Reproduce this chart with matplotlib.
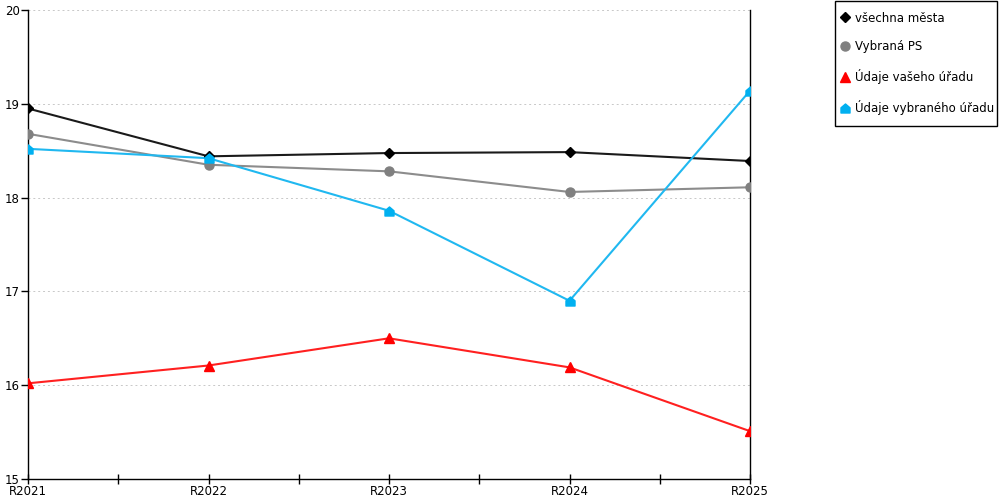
import matplotlib
matplotlib.use("Agg")
import matplotlib.pyplot as plt
from matplotlib.lines import Line2D
from matplotlib.path import Path
from matplotlib.patches import Rectangle

years = ["R2021", "R2022", "R2023", "R2024", "R2025"]
vsechna_mesta = [18.95, 18.44, 18.475, 18.485, 18.39]
vybrana_ps = [18.68, 18.35, 18.28, 18.06, 18.11]
vas_urad = [16.02, 16.21, 16.50, 16.19, 15.51]
vybrany_urad = [18.52, 18.42, 17.86, 16.90, 19.14]

# "house" marker: triangle on top of a square
house = Path([(-1, -1), (1, -1), (1, 0.15), (0, 1), (-1, 0.15), (-1, -1)],
             [Path.MOVETO, Path.LINETO, Path.LINETO, Path.LINETO, Path.LINETO, Path.CLOSEPOLY])

series = [
    ("všechna města", vsechna_mesta, "#000000", "#1a1a1a", "D", 5.5),
    ("Vybraná PS", vybrana_ps, "#808080", "#8c8c8c", "o", 6.5),
    ("Údaje vašeho úřadu", vas_urad, "#ff0000", "#ff2020", "^", 7),
    ("Údaje vybraného úřadu", vybrany_urad, "#00b0f0", "#20b8f0", house, 6.5),
]

fig = plt.figure(figsize=(10, 5), dpi=100)
ax = fig.add_axes([0.028, 0.042, 0.722, 0.938])

x = list(range(len(years)))
handles = []
for label, vals, mc, lc, mk, ms in series:
    ax.plot(x, vals, color=lc, lw=1.5, zorder=3)
    ax.plot(x, vals, ls="none", marker=mk, ms=ms, mfc=mc, mec=mc, zorder=4)
    handles.append(Line2D([], [], ls="none", marker=mk, ms=ms, mfc=mc, mec=mc, label=label))

ax.set_xlim(0, 4)
ax.set_ylim(15, 20)
ax.set_xticks(x)
ax.set_xticklabels(years)
ax.set_xticks([0.5, 1.5, 2.5, 3.5], minor=True)
ax.set_yticks([15, 16, 17, 18, 19, 20])
ax.tick_params(axis="x", which="both", direction="inout", length=7, width=1, labelsize=8.5, pad=1)
ax.tick_params(axis="y", direction="out", length=5, width=1, labelsize=8.5, pad=1)
ax.grid(axis="y", ls=(0, (2, 3)), color="#c8c8c8", lw=0.7)
ax.spines["top"].set_visible(False)
for s in ["left", "right", "bottom"]:
    ax.spines[s].set_color("black")
    ax.spines[s].set_linewidth(1)

# legend frame drawn by hand, entries placed inside it
fig.patches.append(Rectangle((0.8345, 0.748), 0.1625, 0.25, transform=fig.transFigure,
                             fill=False, edgecolor="black", lw=1))
fig.legend(handles=handles, loc="upper left", bbox_to_anchor=(0.841, 0.977),
           frameon=False, fontsize=8.5, handlelength=0.7, handletextpad=0.5,
           labelspacing=1.35, borderpad=0, borderaxespad=0)

fig.savefig("out.png", dpi=100)
